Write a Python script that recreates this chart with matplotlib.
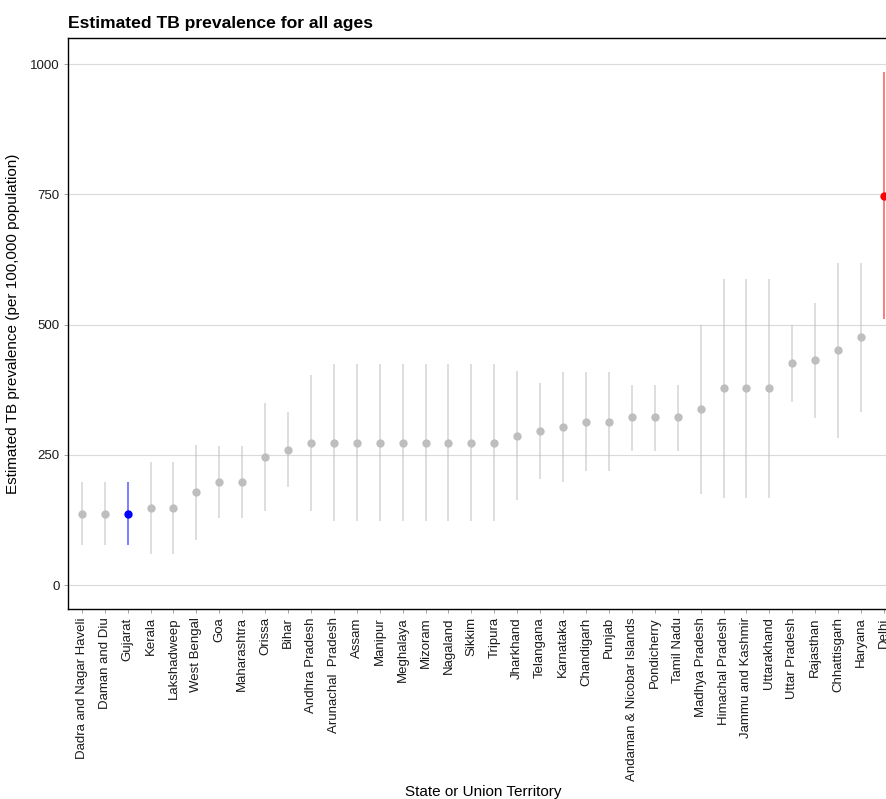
import matplotlib
matplotlib.use("Agg")
import matplotlib.pyplot as plt
import numpy as np

plt.rcParams["font.family"] = ["Liberation Sans", "DejaVu Sans"]

states = [
    "Dadra and Nagar Haveli", "Daman and Diu", "Gujarat", "Kerala", "Lakshadweep",
    "West Bengal", "Goa", "Maharashtra", "Orissa", "Bihar", "Andhra Pradesh",
    "Arunachal  Pradesh", "Assam", "Manipur", "Meghalaya", "Mizoram", "Nagaland",
    "Sikkim", "Tripura", "Jharkhand", "Telangana", "Karnataka", "Chandigarh",
    "Punjab", "Andaman & Nicobar Islands", "Pondicherry", "Tamil Nadu",
    "Madhya Pradesh", "Himachal Pradesh", "Jammu and Kashmir", "Uttarakhand",
    "Uttar Pradesh", "Rajasthan", "Chhattisgarh", "Haryana", "Delhi",
]
prevalence = [
    136, 136, 136, 148, 148, 178, 198, 198, 246, 260, 273,
    273, 273, 273, 273, 273, 273, 273, 273, 287, 296, 303, 313,
    313, 322, 322, 322, 337, 378, 378, 378, 426, 431, 451, 476, 747,
]
lower = [
    77, 77, 77, 59, 59, 87, 129, 129, 142, 188, 142,
    122, 122, 122, 122, 122, 122, 122, 122, 163, 203, 197, 218,
    218, 257, 257, 257, 174, 168, 168, 168, 352, 321, 282, 332, 510,
]
upper = [
    197, 197, 197, 236, 236, 269, 267, 267, 350, 332, 404,
    425, 425, 425, 425, 425, 425, 425, 425, 411, 387, 409, 409,
    409, 384, 384, 384, 500, 587, 587, 587, 500, 542, 619, 619, 984,
]
highlight = {"Gujarat": "#0000FF", "Delhi": "#FF0000"}
base_color = "#BEBEBE"

fig = plt.figure(figsize=(8.86, 7.99), dpi=100)
# panel runs slightly past the right edge of the canvas
ax = fig.add_axes([68 / 886, 190 / 799, 829.7 / 886, 571 / 799])

x = np.arange(len(states))
for i, name in enumerate(states):
    c = highlight.get(name, base_color)
    ax.plot([x[i], x[i]], [lower[i], upper[i]], color=c, alpha=0.65,
            lw=1.1, solid_capstyle="butt", zorder=2)
    ax.plot(x[i], prevalence[i], "o", color=c, ms=6.0, mec="none", zorder=3)

ax.set_xlim(-0.6, len(states) - 1 + 0.6)
ax.set_ylim(-46, 1050)
ax.set_yticks([0, 250, 500, 750, 1000])
ax.set_xticks(x)
ax.set_xticklabels(states, rotation=90, fontsize=9.5, color="#1a1a1a")
ax.tick_params(axis="y", labelsize=9.5, labelcolor="#1a1a1a")
ax.tick_params(axis="both", length=3, width=0.6, color="#999999", pad=3)

ax.grid(axis="y", color="#DADADA", lw=0.8)
ax.set_axisbelow(True)
for s in ax.spines.values():
    s.set_color("black")
    s.set_linewidth(1.0)

ax.set_title("Estimated TB prevalence for all ages", loc="left",
             fontsize=12.6, fontweight="bold", pad=7)
ax.set_ylabel("Estimated TB prevalence (per 100,000 population)", fontsize=11,
              labelpad=7)
ax.set_xlabel("State or Union Territory", fontsize=11, labelpad=3)

fig.savefig("out.png", dpi=100)
